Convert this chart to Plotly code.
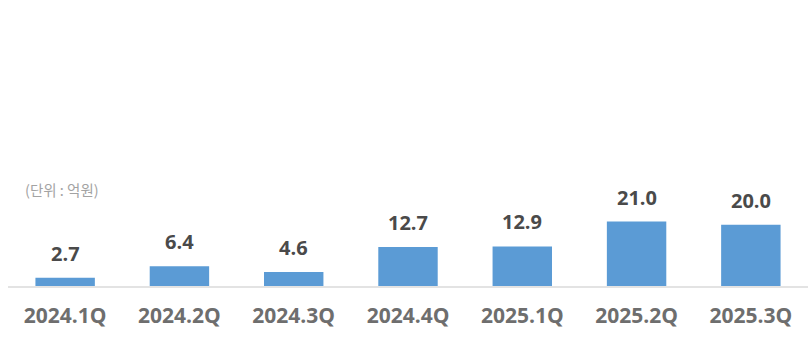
import plotly.graph_objects as go

categories = ["2024.1Q", "2024.2Q", "2024.3Q", "2024.4Q", "2025.1Q", "2025.2Q", "2025.3Q"]
values = [2.7, 6.4, 4.6, 12.7, 12.9, 21.0, 20.0]
value_labels = ["2.7", "6.4", "4.6", "12.7", "12.9", "21.0", "20.0"]
unit_text = "(단위 : 억원)"

fig = go.Figure()
fig.add_trace(go.Bar(
    x=categories, y=values,
    marker=dict(color="#5B9BD5", line=dict(width=0)),
    hoverinfo="skip",
))

for c, v, t in zip(categories, values, value_labels):
    fig.add_annotation(
        x=c, y=v, text=t, showarrow=False, yanchor="bottom", yshift=9,
        font=dict(family="Open Sans", size=20, color="#4a4a4a", weight="bold"),
    )

fig.add_annotation(
    xref="paper", yref="paper", x=0.028, y=0.336, xanchor="left", yanchor="middle",
    text=unit_text, showarrow=False,
    font=dict(family="Noto Sans CJK KR", size=14.5, color="#a3a3a3"),
)

fig.update_layout(
    width=808, height=363,
    margin=dict(l=0, r=0, t=0, b=77),
    paper_bgcolor="white", plot_bgcolor="white",
    bargap=0.48,
    showlegend=False,
    xaxis=dict(
        domain=[8 / 808, 1],
        showline=True, linecolor="#e3e3e3", linewidth=1.5,
        showgrid=False, ticks="",
        tickfont=dict(family="Open Sans", size=21, color="#6e6e6e", weight="bold"),
        ticklabelstandoff=10,
        fixedrange=True,
    ),
    yaxis=dict(range=[0, 93.2], visible=False, fixedrange=True),
)

fig.write_html("out.html")
